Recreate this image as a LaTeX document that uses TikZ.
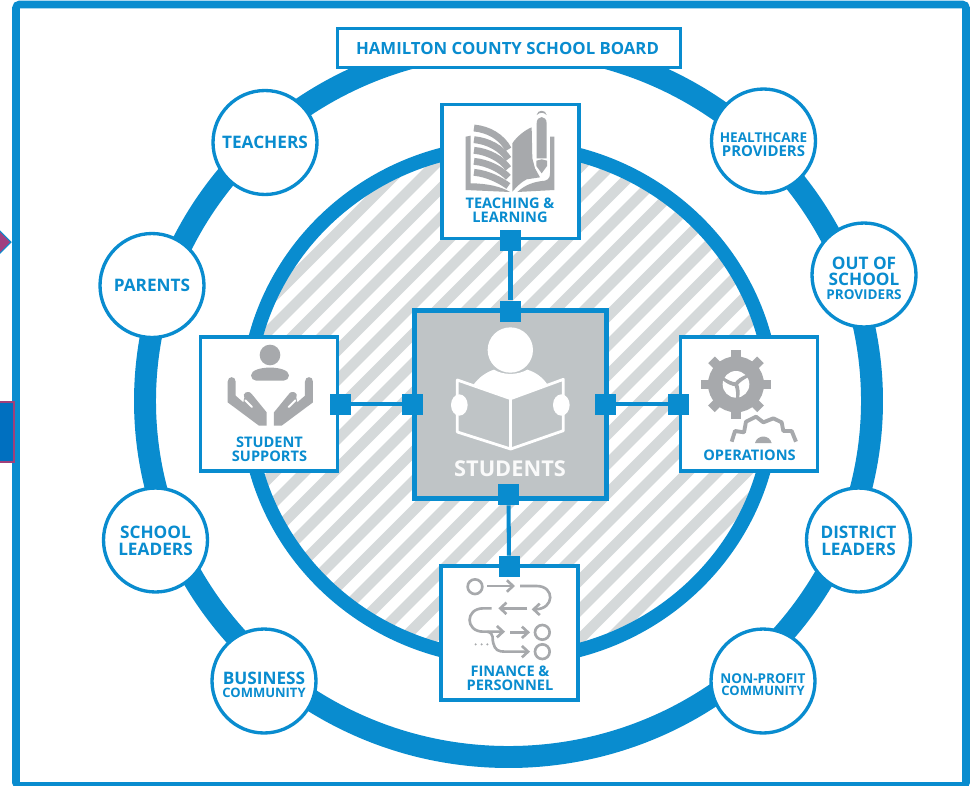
\documentclass[tikz,border=0pt]{standalone}
\usepackage{fontspec}
\setmainfont{Open Sans}
\usetikzlibrary{arrows.meta}
\definecolor{boardblue}{HTML}{098CCF}
\definecolor{icongray}{HTML}{A7A9AC}
\definecolor{coregray}{HTML}{BFC4C6}
\definecolor{hatchgray}{HTML}{D5D9DA}
\newcommand{\smline}{\fontsize{7.7}{9}\selectfont}
\newcommand{\midline}{\fontsize{8.5}{9}\selectfont}
\newcommand{\commline}{\fontsize{7.4}{9}\selectfont}
\begin{document}
\begin{tikzpicture}[
    x=0.02cm, y=-0.02cm,
    partner/.style={circle, draw=boardblue, line width=1.9pt, fill=white, minimum size=2.08cm, inner sep=0pt, text=boardblue, align=center, font=\bfseries\fontsize{9.8}{9}\selectfont},
    panel/.style={rectangle, draw=boardblue, line width=2pt, fill=white, minimum width=2.74cm, minimum height=2.68cm},
    paneltext/.style={text=boardblue, align=center, inner sep=0pt, font=\bfseries\fontsize{8.3}{8}\selectfont},
    joint/.style={rectangle, fill=boardblue, minimum size=0.42cm, inner sep=0pt},
    link/.style={draw=boardblue, line width=2.3pt},
    icon/.style={fill=icongray},
    iconline/.style={draw=icongray, line width=1.5pt},
    flowarrow/.style={iconline, -{Straight Barb[length=3.5pt,width=6.5pt]}},
    zoomed/.style={shift={#1}, x=0.00667cm, y=-0.00667cm}
]
\useasboundingbox (0,0) rectangle (973,785);
\fill[white] (0,0) rectangle (973,785);

% Frame
\draw[boardblue, line width=4.3pt, rounded corners=2pt] (16,4.5) rectangle (966,786);

% Left edge marks
\fill[fill={rgb,255:red,160;green,64;blue,128}, draw=boardblue, line width=0.6pt] (-3,228) -- (11,242) -- (-3,256) -- cycle;
\fill[fill={rgb,255:red,0;green,112;blue,192}, draw={rgb,255:red,160;green,64;blue,122}, line width=0.6pt] (-3,402) rectangle (14,462);

% Rings and hatching
\draw[boardblue, line width=12.5pt] (508.5,401) ellipse [x radius=363.5, y radius=356];
\begin{scope}
    \clip (510,402.5) ellipse [x radius=263, y radius=256.5];
    \fill[white] (200,100) rectangle (820,700);
    \foreach \k in {-13,...,18} {
        \pgfmathsetmacro{\c}{865+29.5*\k}
        \draw[hatchgray, line width=6pt] ({\c-100},100) -- ({\c-700},700);
    }
\end{scope}
\draw[boardblue, line width=8pt] (510,402.5) ellipse [x radius=263, y radius=256.5];

% Title
\node[rectangle, draw=boardblue, line width=2pt, fill=white, minimum width=6.86cm, minimum height=0.78cm, text=boardblue, font=\bfseries\fontsize{9.55}{10}\selectfont] (board) at (509,48) {\hspace{-1.7pt}HAMILTON COUNTY SCHOOL BOARD};

% Partners
\node[partner] (teachers) at (265,142.5) {TEACHERS};
\node[partner] (parents) at (152,285.5) {PARENTS};
\node[partner] (healthcare) at (763.5,141) {\rule{0pt}{9.5pt}{\smline HEALTHCARE}\\[-1pt]{\midline PROVIDERS}};
\node[partner] (outofschool) at (864,275) {\rule{0pt}{11pt}OUT OF\\SCHOOL\\[-1pt]{\smline PROVIDERS}};
\node[partner] (schoolleaders) at (155.5,540) {\rule{0pt}{8.2pt}SCHOOL\\[0.5pt]LEADERS};
\node[partner] (business) at (264,681) {\rule{0pt}{11pt}BUSINESS\\[-1.5pt]{\commline COMMUNITY}};
\node[partner] (districtleaders) at (858.5,540) {\rule{0pt}{8.2pt}DISTRICT\\[0.5pt]LEADERS};
\node[partner] (nonprofit) at (763,681) {\rule{0pt}{9.5pt}{\smline NON-PROFIT}\\[-2pt]{\commline COMMUNITY}};

% Panels
\node[panel] (teaching) at (510.5,171.5) {};
\node[panel] (supports) at (269,404) {};
\node[panel] (operations) at (749,404) {};
\node[panel] (finance) at (509.5,633) {};
\node[rectangle, draw=boardblue, line width=2.85pt, fill=coregray, minimum width=3.84cm, minimum height=3.76cm] (students) at (510.5,404.5) {};

% Joints
\node[joint] (teachingjoint) at (510.5,240) {};
\node[joint] (studentstop) at (510.5,311) {};
\node[joint] (supportsjoint) at (340,404) {};
\node[joint] (studentsleft) at (412.5,404) {};
\node[joint] (studentsright) at (605.5,404) {};
\node[joint] (operationsjoint) at (678.5,404) {};
\node[joint] (studentsbottom) at (508.5,494.5) {};
\node[joint] (financejoint) at (509,566.5) {};

% Connections
\draw[link] (teachingjoint) -- (studentstop);
\draw[link] (supportsjoint) -- (studentsleft);
\draw[link] (studentsright) -- (operationsjoint);
\draw[link] (studentsbottom) -- (financejoint);

% Panel labels
\node[paneltext] (teachinglabel) at (510,210) {TEACHING \&\\LEARNING};
\node[paneltext] (supportslabel) at (269.5,449) {STUDENT\\SUPPORTS};
\node[paneltext] (operationslabel) at (749.5,455.5) {OPERATIONS};
\node[paneltext] (financelabel) at (510,678) {FINANCE \&\\PERSONNEL};
\node[text=white!92!coregray, inner sep=0pt, font=\bfseries\fontsize{12.4}{13}\selectfont] (studentslabel) at (510,469) {STUDENTS};

% Book and pencil
\begin{scope}[zoomed={(400,90)}]
    \fill[icon] (197,140) -- (212,137) -- (212,280) .. controls (260,280) and (305,290) .. (330,306) -- (197,300) -- cycle;
    \foreach \a/\b in {114/178, 149/207, 181/235, 214/262, 247/288} {
        \draw[icongray, line width=3.9pt] (222,\a) .. controls (265,{\a+4}) and (305,{\a+26}) .. (325,\b);
    }
    \fill[icon] (337,160) .. controls (350,140) and (375,120) .. (395,112) -- (397,205) -- (405,235) -- (420,262) -- (380,268) .. controls (365,275) and (350,290) .. (337,305) -- cycle;
    \fill[icon] (450,140) -- (463,140) -- (463,300) -- (352,306) .. controls (375,285) and (400,275) .. (435,272) .. controls (450,268) and (450,255) .. (450,250) -- cycle;
    \fill[icon] (410,100) .. controls (410,75) and (440,75) .. (440,100) -- (440,205) -- (410,205) -- cycle;
    \fill[icon] (410,75) .. controls (412,58) and (438,58) .. (440,75) .. controls (430,66) and (420,66) .. (410,75) -- cycle;
    \fill[icon] (409,212) -- (425,208) -- (441,212) -- (441,228) -- (425,250) -- (409,228) -- cycle;
\end{scope}

% Reader
\begin{scope}[zoomed={(400,300)}]
    \fill[white] (331,150) circle [radius=68];
    \fill[white] (218,258) .. controls (235,232) and (260,216) .. (282,209) .. controls (310,226) and (352,226) .. (382,209) .. controls (405,216) and (430,232) .. (445,258) -- (332,296) -- cycle;
    \draw[white, fill=coregray, line width=1.6pt, line join=round] (172,240) -- (332,296) -- (490,238) -- (490,392) -- (332,447) -- (172,396) -- cycle;
    \draw[white, line width=1.6pt] (332,296) -- (332,447);
    \fill[white] (178,315) ellipse [x radius=25, y radius=32];
    \fill[white] (484,315) ellipse [x radius=25, y radius=32];
\end{scope}

% Caring hands
\begin{scope}[zoomed={(190,325)}]
    \fill[icon] (240,90) circle [radius=31];
    \fill[icon, rounded corners=3pt] (183,167) .. controls (183,120) and (297,120) .. (297,167) -- cycle;
    \foreach \m/\s in {0/1, 482/-1} {
        \begin{scope}[shift={(\m,0)}, xscale=\s]
            \fill[icon] (113,170) .. controls (113,152) and (137,152) .. (137,170) -- (137,212) -- (160,232) -- (163,218) .. controls (155,205) and (175,192) .. (186,208) -- (230,262) -- (230,302) -- (207,302) -- (113,232) -- cycle;
            \draw[white, line width=1.1pt, line cap=round] (166,226) -- (186,246);
        \end{scope}
    }
\end{scope}

% Gears
\begin{scope}[zoomed={(670,325)}]
    \fill[icon] (198,178) circle [radius=84];
    \foreach \a in {0,45,...,315} {
        \fill[icon, rotate around={\a:(198,178)}] (184,74) rectangle (212,100);
    }
    \fill[white] (198,178) circle [radius=40];
    \foreach \a in {-15,105,225} {
        \fill[icon, rotate around={\a:(198,178)}] (192,178) .. controls (195,165) and (208,150) .. (224,140) -- (230,146) .. controls (218,156) and (208,168) .. (204,178) -- cycle;
    }
    \draw[icongray, line width=2.2pt, line join=round] (185,350) -- (195,318) -- (222,322) -- (228,290) -- (258,275) -- (280,292) -- (310,280) -- (335,292) -- (340,318) -- (365,318) -- (378,350);
    \fill[icon] (255,354) .. controls (262,328) and (298,328) .. (305,354) -- cycle;
\end{scope}

% Flow chart
\begin{scope}[zoomed={(430,555)}]
    \draw[iconline] (135,95) circle [radius=22];
    \draw[flowarrow] (172,93) -- (255,93);
    \draw[flowarrow] (270,93) -- (320,93) .. controls (375,93) and (375,163) .. (305,163);
    \draw[flowarrow] (292,160) -- (205,160);
    \draw[flowarrow] (185,160) -- (160,160) .. controls (105,160) and (105,230) .. (160,230) -- (225,230);
    \draw[flowarrow] (240,232) -- (300,232);
    \draw[iconline] (337,232) circle [radius=22];
    \draw[flowarrow] (172,230) .. controls (195,235) and (185,255) .. (190,265) .. controls (195,285) and (205,290) .. (225,290) -- (300,290);
    \draw[iconline] (337,290) circle [radius=22];
    \foreach \d in {137,155,172} {
        \fill[icon] (\d,268) circle [radius=3.5];
    }
\end{scope}

\end{tikzpicture}
\end{document}
